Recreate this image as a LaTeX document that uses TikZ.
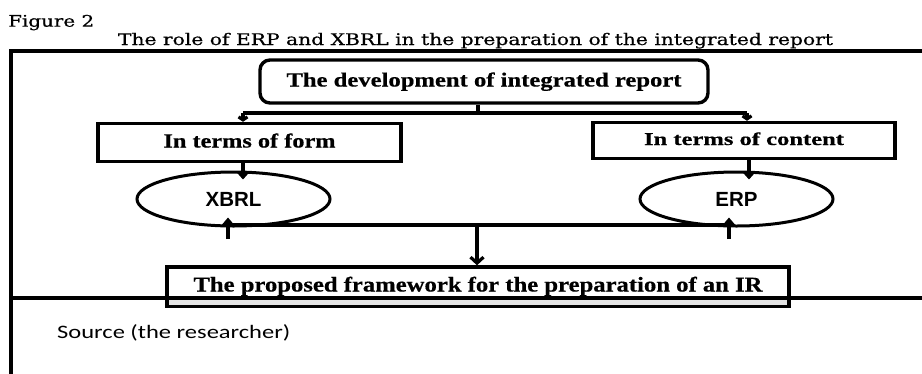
\documentclass[tikz,border=0pt]{standalone}
\usepackage{fontspec}
\usepackage{graphicx}
\setmainfont{Liberation Serif}[BoldFeatures={FakeBold=0.5}]
\newfontfamily\capfont{DejaVu Serif}[FakeBold=0.5]
\newfontfamily\labelsans{Liberation Sans}
\newfontfamily\notefont{Carlito}
\usetikzlibrary{arrows.meta,shapes.geometric}
\begin{document}
\begin{tikzpicture}[x=1pt,y=-1pt,
  box/.style={draw,line width=3.4pt,inner sep=0pt,fill=white},
  oval/.style={ellipse,draw,line width=3pt,inner sep=0pt,fill=white,
    minimum width=193pt,minimum height=54pt,
    font=\labelsans\bfseries\fontsize{20.5}{24}\selectfont,text height=14.5pt,text depth=0pt},
  boxtext/.style={font=\bfseries\fontsize{20}{24}\selectfont,text height=14pt,text depth=4pt},
  link/.style={line width=3.2pt},
  arr/.style={link,-{Straight Barb[length=6pt,width=13pt]}},
  downarr/.style={link,-{Triangle[length=7pt,width=12pt]}},
  uparr/.style={link,-{Triangle[length=8pt,width=13pt]}},
  tinyarr/.style={link,-{Straight Barb[length=3pt,width=9pt]}},
  caption/.style={inner sep=0pt,font=\capfont\fontsize{16}{19}\selectfont}
]
\useasboundingbox (0,0) rectangle (922,373);
\fill[white] (0,0) rectangle (922,373);

% headings above the frame
\node[caption,anchor=base west] (fig) at (8,26.7) {\resizebox{86pt}{\height}{Figure 2}};
\node[caption,anchor=base] (title) at (475.5,45) {\resizebox{715pt}{\height}{The role of ERP and XBRL in the preparation of the integrated report}};

% outer frame
\draw[line width=4pt] (925,51) -- (11,51) -- (11,376);

% boxes
\node[box,boxtext,rounded corners=10pt,minimum width=448pt,minimum height=43pt] (dev) at (484,81.5)
  {\resizebox{395pt}{\height}{The development of integrated report}};
\node[box,boxtext,minimum width=303pt,minimum height=38pt] (form) at (249.5,142.5)
  {\resizebox{172pt}{\height}{In terms of form}};
\node[box,boxtext,font=\bfseries\fontsize{18}{22}\selectfont,text height=13pt,text depth=4pt,
  minimum width=302pt,minimum height=36pt] (content) at (744,140.5)
  {\resizebox{200pt}{\height}{In terms of content}};

% ovals
\node[oval] (xbrl) at (233.5,199) {XBRL};
\node[oval] (erp) at (736.5,199) {ERP};

% result box and the rule under it
\node[box,boxtext,font=\bfseries\fontsize{21}{25}\selectfont,minimum width=622pt,minimum height=39pt] (fw) at (478,286.5)
  {\resizebox{569pt}{\height}{The proposed framework for the preparation of an IR}};
\fill[gray!22] (169,299.5) rectangle (787,304.5);
\draw[line width=3.2pt] (11,298) -- (925,298);

% source note
\node[inner sep=0pt,anchor=base west,font=\notefont\fontsize{19}{23}\selectfont] (src) at (57,338.3)
  {\resizebox{233pt}{\height}{Source (the researcher)}};

% split from the top box
\coordinate (split) at (478,113);
\coordinate (tl) at (243,113);
\coordinate (tr) at (747,113);
\draw[link] (dev.south -| split) -- (split);
\draw[link] (tl) -- (tr);
\draw[tinyarr] (tl) -- (form.north -| tl);
\draw[tinyarr] (tr) -- (content.north -| tr);

% boxes to ovals
\coordinate (fx) at (243,0);
\coordinate (cx) at (749,0);
\draw[downarr,shorten >=-9pt] (form.south -| fx) -- (xbrl.north -| fx);
\draw[downarr,shorten >=-9pt] (content.south -| cx) -- (erp.north -| cx);

% ovals joined into the result box
\coordinate (bl) at (228,225);
\coordinate (br) at (729,225);
\coordinate (bm) at (477,225);
\draw[link] (bl) -- (br);
\draw[uparr,shorten >=-10pt] ([yshift=-14pt]bl) -- (xbrl.south -| bl);
\draw[uparr,shorten >=-10pt] ([yshift=-14pt]br) -- (erp.south -| br);
\draw[arr] (bm) -- (fw.north -| bm);
\end{tikzpicture}
\end{document}
